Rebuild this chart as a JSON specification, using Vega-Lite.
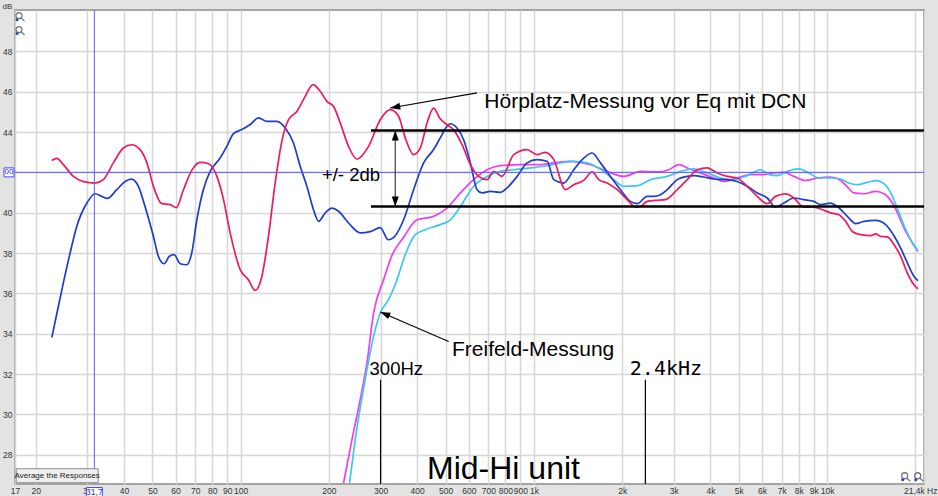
{
  "$schema": "https://vega.github.io/schema/vega-lite/v6.json",
  "width": 909,
  "height": 474,
  "autosize": {"type": "none"},
  "padding": {"left": 15, "top": 10, "right": 14, "bottom": 12},
  "background": "#e3e3e3",
  "config": {
    "view": {"fill": "white", "stroke": "#a4a4a4", "strokeWidth": 2},
    "font": "Liberation Sans"
  },
  "datasets": {
    "freifeld_magenta": [
      {"hz": 224.3, "db": 26.6}, {"hz": 239.7, "db": 28.75}, {"hz": 255.7, "db": 30.73}, {"hz": 269.6, "db": 32.55},
      {"hz": 284.0, "db": 35.03}, {"hz": 307.2, "db": 36.68}, {"hz": 329.0, "db": 37.92}, {"hz": 358.6, "db": 38.76},
      {"hz": 399.5, "db": 39.65}, {"hz": 455.0, "db": 39.82}, {"hz": 505.4, "db": 40.23}, {"hz": 561.3, "db": 40.98},
      {"hz": 623.1, "db": 41.64}, {"hz": 692.3, "db": 42.13}, {"hz": 768.6, "db": 42.33}, {"hz": 899.4, "db": 42.38},
      {"hz": 1052, "db": 42.38}, {"hz": 1169, "db": 42.47}, {"hz": 1332, "db": 42.55}, {"hz": 1559, "db": 42.38},
      {"hz": 1777, "db": 42.05}, {"hz": 2025, "db": 41.8}, {"hz": 2310, "db": 42.05}, {"hz": 2633, "db": 42.02},
      {"hz": 2885, "db": 42.13}, {"hz": 3121, "db": 42.38}, {"hz": 3334, "db": 42.22}, {"hz": 3700, "db": 41.97},
      {"hz": 4108, "db": 41.72}, {"hz": 4444, "db": 41.55}, {"hz": 4937, "db": 41.72}, {"hz": 5482, "db": 41.89},
      {"hz": 6084, "db": 41.89}, {"hz": 6580, "db": 41.97}, {"hz": 7122, "db": 42.0}, {"hz": 7701, "db": 41.8},
      {"hz": 8446, "db": 41.6}, {"hz": 9260, "db": 41.72}, {"hz": 10277, "db": 41.77}, {"hz": 11120, "db": 41.6},
      {"hz": 11721, "db": 41.28}, {"hz": 12350, "db": 40.98}, {"hz": 13360, "db": 40.94}, {"hz": 14640, "db": 41.06},
      {"hz": 15630, "db": 40.94}, {"hz": 16700, "db": 40.48}, {"hz": 17590, "db": 39.82}, {"hz": 18530, "db": 39.07},
      {"hz": 19540, "db": 38.5}, {"hz": 20410, "db": 38.08}
    ],
    "freifeld_cyan": [
      {"hz": 235.1, "db": 26.6}, {"hz": 245.9, "db": 28.75}, {"hz": 269.6, "db": 32.22}, {"hz": 284.0, "db": 33.87},
      {"hz": 299.3, "db": 35.03}, {"hz": 319.4, "db": 35.69}, {"hz": 341.3, "db": 36.68}, {"hz": 364.3, "db": 37.92},
      {"hz": 394.1, "db": 38.91}, {"hz": 426.3, "db": 39.16}, {"hz": 479.5, "db": 39.41}, {"hz": 518.8, "db": 39.65},
      {"hz": 561.3, "db": 40.31}, {"hz": 623.1, "db": 41.31}, {"hz": 692.3, "db": 41.8}, {"hz": 768.6, "db": 42.05},
      {"hz": 853.5, "db": 42.13}, {"hz": 972.8, "db": 42.22}, {"hz": 1109, "db": 42.33}, {"hz": 1264, "db": 42.5},
      {"hz": 1368, "db": 42.55}, {"hz": 1519, "db": 42.47}, {"hz": 1687, "db": 42.17}, {"hz": 1872, "db": 41.64},
      {"hz": 2025, "db": 41.31}, {"hz": 2250, "db": 41.34}, {"hz": 2498, "db": 41.64}, {"hz": 2849, "db": 41.8},
      {"hz": 3162, "db": 42.05}, {"hz": 3511, "db": 42.17}, {"hz": 3901, "db": 41.97}, {"hz": 4330, "db": 41.72},
      {"hz": 4806, "db": 41.64}, {"hz": 5340, "db": 41.84}, {"hz": 5929, "db": 42.13}, {"hz": 6330, "db": 41.89},
      {"hz": 6761, "db": 41.84}, {"hz": 7314, "db": 42.05}, {"hz": 8012, "db": 42.17}, {"hz": 8667, "db": 41.97},
      {"hz": 9376, "db": 41.72}, {"hz": 10277, "db": 41.72}, {"hz": 11120, "db": 41.67}, {"hz": 11870, "db": 41.47},
      {"hz": 12680, "db": 41.39}, {"hz": 13720, "db": 41.5}, {"hz": 14640, "db": 41.59}, {"hz": 15630, "db": 41.44},
      {"hz": 16700, "db": 40.81}, {"hz": 17590, "db": 39.99}, {"hz": 18530, "db": 39.16}, {"hz": 19540, "db": 38.5},
      {"hz": 20410, "db": 38.12}
    ],
    "hoerplatz_blau": [
      {"hz": 22.7, "db": 33.82}, {"hz": 23.9, "db": 35.36}, {"hz": 24.85, "db": 36.52}, {"hz": 26.2, "db": 38.0},
      {"hz": 27.6, "db": 39.32}, {"hz": 29.9, "db": 40.48}, {"hz": 31.9, "db": 40.94}, {"hz": 33.6, "db": 40.81},
      {"hz": 35.1, "db": 40.71}, {"hz": 37.8, "db": 41.14}, {"hz": 40.35, "db": 41.55}, {"hz": 42.5, "db": 41.67},
      {"hz": 44.8, "db": 41.31}, {"hz": 47.2, "db": 40.31}, {"hz": 50.4, "db": 38.83}, {"hz": 52.4, "db": 37.84},
      {"hz": 54.8, "db": 37.47}, {"hz": 57.15, "db": 37.84}, {"hz": 59.3, "db": 37.92}, {"hz": 62.2, "db": 37.47},
      {"hz": 65.5, "db": 37.42}, {"hz": 68.1, "db": 38.0}, {"hz": 70.9, "db": 39.65}, {"hz": 74.6, "db": 41.14},
      {"hz": 78.7, "db": 42.05}, {"hz": 85.1, "db": 42.71}, {"hz": 89.7, "db": 43.29}, {"hz": 94.5, "db": 43.92},
      {"hz": 100.9, "db": 44.12}, {"hz": 107.8, "db": 44.37}, {"hz": 115.0, "db": 44.7}, {"hz": 122.9, "db": 44.53},
      {"hz": 132.9, "db": 44.53}, {"hz": 141.9, "db": 44.2}, {"hz": 151.4, "db": 43.46}, {"hz": 159.6, "db": 42.3},
      {"hz": 168.2, "db": 41.31}, {"hz": 177.2, "db": 40.15}, {"hz": 184.3, "db": 39.57}, {"hz": 194.3, "db": 39.99},
      {"hz": 204.8, "db": 40.23}, {"hz": 215.7, "db": 40.07}, {"hz": 233.3, "db": 39.49}, {"hz": 255.7, "db": 39.0},
      {"hz": 276.7, "db": 39.06}, {"hz": 299.3, "db": 39.26}, {"hz": 318.7, "db": 38.66}, {"hz": 336.7, "db": 38.86},
      {"hz": 359.5, "db": 39.65}, {"hz": 388.9, "db": 41.14}, {"hz": 420.7, "db": 42.47}, {"hz": 455.0, "db": 43.13},
      {"hz": 479.5, "db": 43.71}, {"hz": 505.4, "db": 44.28}, {"hz": 518.8, "db": 44.41}, {"hz": 546.7, "db": 44.2},
      {"hz": 576.0, "db": 43.62}, {"hz": 607.3, "db": 42.47}, {"hz": 640.0, "db": 41.14}, {"hz": 665.7, "db": 40.98},
      {"hz": 710.5, "db": 41.06}, {"hz": 768.6, "db": 41.01}, {"hz": 810.0, "db": 41.23}, {"hz": 876.6, "db": 41.8},
      {"hz": 948.0, "db": 42.47}, {"hz": 1025, "db": 42.63}, {"hz": 1109, "db": 42.55}, {"hz": 1169, "db": 41.64},
      {"hz": 1264, "db": 41.47}, {"hz": 1368, "db": 42.13}, {"hz": 1479, "db": 42.71}, {"hz": 1580, "db": 42.96},
      {"hz": 1687, "db": 42.47}, {"hz": 1824, "db": 41.8}, {"hz": 1973, "db": 41.14}, {"hz": 2135, "db": 40.56},
      {"hz": 2250, "db": 40.45}, {"hz": 2434, "db": 40.81}, {"hz": 2564, "db": 40.81}, {"hz": 2702, "db": 40.89},
      {"hz": 2849, "db": 41.14}, {"hz": 3082, "db": 41.64}, {"hz": 3334, "db": 41.8}, {"hz": 3511, "db": 41.84},
      {"hz": 3798, "db": 41.77}, {"hz": 4108, "db": 41.67}, {"hz": 4564, "db": 41.64}, {"hz": 4937, "db": 41.55},
      {"hz": 5340, "db": 41.31}, {"hz": 5778, "db": 40.98}, {"hz": 6249, "db": 40.73}, {"hz": 6668, "db": 40.28},
      {"hz": 7122, "db": 40.48}, {"hz": 7701, "db": 40.73}, {"hz": 8332, "db": 40.65}, {"hz": 9013, "db": 40.56},
      {"hz": 9502, "db": 40.4}, {"hz": 10277, "db": 40.48}, {"hz": 10835, "db": 40.31}, {"hz": 11721, "db": 39.82},
      {"hz": 12510, "db": 39.46}, {"hz": 13360, "db": 39.57}, {"hz": 14640, "db": 39.62}, {"hz": 15840, "db": 39.41},
      {"hz": 16900, "db": 38.86}, {"hz": 17820, "db": 38.25}, {"hz": 18780, "db": 37.51}, {"hz": 19780, "db": 36.84},
      {"hz": 20410, "db": 36.63}
    ],
    "hoerplatz_rot": [
      {"hz": 22.7, "db": 42.59}, {"hz": 23.6, "db": 42.69}, {"hz": 24.85, "db": 42.38}, {"hz": 26.9, "db": 41.8},
      {"hz": 29.1, "db": 41.54}, {"hz": 31.9, "db": 41.47}, {"hz": 34.0, "db": 41.64}, {"hz": 36.8, "db": 42.47},
      {"hz": 39.8, "db": 43.21}, {"hz": 42.5, "db": 43.37}, {"hz": 45.4, "db": 43.13}, {"hz": 47.9, "db": 42.47},
      {"hz": 50.4, "db": 41.31}, {"hz": 53.8, "db": 40.45}, {"hz": 57.5, "db": 40.4}, {"hz": 60.3, "db": 40.25},
      {"hz": 63.8, "db": 41.14}, {"hz": 68.1, "db": 42.1}, {"hz": 72.7, "db": 42.5}, {"hz": 77.7, "db": 42.43},
      {"hz": 83.0, "db": 41.8}, {"hz": 87.4, "db": 40.65}, {"hz": 92.1, "db": 39.0}, {"hz": 99.6, "db": 37.18},
      {"hz": 106.3, "db": 36.68}, {"hz": 112.1, "db": 36.15}, {"hz": 118.1, "db": 36.84}, {"hz": 124.4, "db": 38.83},
      {"hz": 131.1, "db": 41.47}, {"hz": 138.2, "db": 43.54}, {"hz": 145.6, "db": 44.61}, {"hz": 155.5, "db": 45.02},
      {"hz": 166.0, "db": 45.77}, {"hz": 176.4, "db": 46.35}, {"hz": 186.8, "db": 46.02}, {"hz": 197.0, "db": 45.52},
      {"hz": 207.4, "db": 45.27}, {"hz": 218.6, "db": 44.45}, {"hz": 233.3, "db": 43.29}, {"hz": 249.2, "db": 42.66},
      {"hz": 273.0, "db": 43.29}, {"hz": 299.3, "db": 44.61}, {"hz": 323.7, "db": 45.11}, {"hz": 345.6, "db": 44.78},
      {"hz": 364.3, "db": 43.71}, {"hz": 388.9, "db": 42.88}, {"hz": 409.9, "db": 43.21}, {"hz": 432.1, "db": 44.45},
      {"hz": 455.0, "db": 45.19}, {"hz": 476.9, "db": 44.7}, {"hz": 505.4, "db": 44.36}, {"hz": 532.3, "db": 44.12},
      {"hz": 568.9, "db": 43.37}, {"hz": 607.3, "db": 42.38}, {"hz": 648.1, "db": 41.8}, {"hz": 692.3, "db": 41.64},
      {"hz": 729.2, "db": 42.05}, {"hz": 778.9, "db": 41.8}, {"hz": 853.5, "db": 42.88}, {"hz": 948.0, "db": 43.13},
      {"hz": 1025, "db": 42.88}, {"hz": 1094, "db": 42.99}, {"hz": 1169, "db": 42.63}, {"hz": 1281, "db": 41.14},
      {"hz": 1368, "db": 41.39}, {"hz": 1479, "db": 41.6}, {"hz": 1580, "db": 42.02}, {"hz": 1664, "db": 41.64},
      {"hz": 1777, "db": 41.47}, {"hz": 1923, "db": 41.14}, {"hz": 2080, "db": 40.65}, {"hz": 2221, "db": 40.28},
      {"hz": 2310, "db": 40.31}, {"hz": 2434, "db": 40.56}, {"hz": 2598, "db": 40.61}, {"hz": 2810, "db": 40.65},
      {"hz": 3082, "db": 41.14}, {"hz": 3334, "db": 41.64}, {"hz": 3606, "db": 42.13}, {"hz": 3901, "db": 42.22},
      {"hz": 4220, "db": 41.97}, {"hz": 4564, "db": 41.8}, {"hz": 4937, "db": 41.72}, {"hz": 5340, "db": 41.31},
      {"hz": 5778, "db": 40.81}, {"hz": 6249, "db": 40.45}, {"hz": 6668, "db": 40.81}, {"hz": 7217, "db": 40.93},
      {"hz": 7701, "db": 40.73}, {"hz": 8332, "db": 40.28}, {"hz": 9013, "db": 40.28}, {"hz": 9630, "db": 40.15},
      {"hz": 10277, "db": 39.99}, {"hz": 10972, "db": 39.9}, {"hz": 11567, "db": 39.57}, {"hz": 12190, "db": 39.07},
      {"hz": 13010, "db": 38.91}, {"hz": 14080, "db": 38.86}, {"hz": 14640, "db": 38.95}, {"hz": 15220, "db": 38.83},
      {"hz": 16050, "db": 38.8}, {"hz": 16900, "db": 38.42}, {"hz": 17820, "db": 37.84}, {"hz": 18780, "db": 37.01},
      {"hz": 19780, "db": 36.43}, {"hz": 20410, "db": 36.22}
    ],
    "toleranz": [
      {"hz1": 278.2, "hz2": 21400, "db": 44.07},
      {"hz1": 278.2, "hz2": 21400, "db": 40.31}
    ],
    "weichen": [
      {"hz": 300, "db_top": 31.72, "db_bottom": 26.55},
      {"hz": 2400, "db_top": 31.72, "db_bottom": 26.55}
    ],
    "pfeile": [
      {"name": "hoerplatz", "hz1": 640, "db1": 45.94, "hz2": 323.7, "db2": 45.19},
      {"name": "freifeld", "hz1": 512.1, "db1": 33.62, "hz2": 299.3, "db2": 35.08},
      {"name": "bereich", "hz1": 336.7, "db1": 44.07, "hz2": 336.7, "db2": 40.31}
    ],
    "cursor": [
      {"hz": 31.7, "db": 42, "hz_text": "31,7", "db_text": "00"}
    ],
    "knopf": [
      {"hz": 23.68, "db": 26.96, "text": "Average the Responses"}
    ],
    "lupen": [
      {"hz": 17.68, "db": 49.72},
      {"hz": 17.68, "db": 49.03},
      {"hz": 18530, "db": 26.91},
      {"hz": 20530, "db": 26.91}
    ],
    "texte_gross": [
      {"hz": 677.7, "db": 45.19, "text": "Hörplatz-Messung vor Eq mit DCN"},
      {"hz": 525.9, "db": 32.88, "text": "Freifeld-Messung"}
    ],
    "texte_mittel": [
      {"hz": 189.3, "db": 41.55, "text": "+/- 2db"},
      {"hz": 275.2, "db": 31.97, "text": "300Hz"}
    ],
    "text_24k": [
      {"hz": 2821, "db": 31.97, "text": "2.4kHz"}
    ],
    "titel": [
      {"hz": 432.1, "db": 26.8, "text": "Mid-Hi unit"}
    ]
  },
  "layer": [
    {
      "data": {"name": "freifeld_magenta"},
      "mark": {"type": "line", "color": "#f23cf2", "strokeWidth": 1.7, "interpolate": "monotone", "clip": true},
      "encoding": {
        "x": {
          "field": "hz", "type": "quantitative",
          "scale": {"type": "log", "domain": [17, 21400], "nice": false},
          "axis": {
            "title": null,
            "values": [17, 20, 30, 40, 50, 60, 70, 80, 90, 100, 200, 300, 400, 500, 600, 700, 800, 900, 1000, 2000, 3000, 4000, 5000, 6000, 7000, 8000, 9000, 10000, 20000, 21400],
            "labelExpr": "datum.value == 21400 ? '21,4k Hz' : datum.value == 20000 ? '' : datum.value >= 1000 ? (datum.value / 1000) + 'k' : '' + datum.value",
            "labelAlign": {"condition": {"test": "datum.value == 21400", "value": "right"}, "value": "center"},
            "labelOffset": {"condition": {"test": "datum.value == 21400", "value": 13}, "value": 0},
            "grid": true, "gridColor": "#d6d6d6", "gridWidth": 1.5,
            "domain": false, "ticks": false,
            "labelFontSize": 8.5, "labelColor": "#333333", "labelPadding": 2,
            "labelOverlap": false, "labelBound": false, "labelFlush": false
          }
        },
        "y": {
          "field": "db", "type": "quantitative",
          "scale": {"domain": [26.55, 50.05], "nice": false, "zero": false},
          "axis": {
            "title": "dB", "titleAngle": 0, "titleX": -8, "titleY": -4,
            "titleBaseline": "middle", "titleAlign": "center",
            "titleFontSize": 8, "titleFontWeight": "normal", "titleColor": "#333333",
            "values": [28, 30, 32, 34, 36, 38, 40, 42, 44, 46, 48],
            "labelExpr": "datum.value == 42 ? '' : '' + datum.value",
            "grid": true, "gridColor": "#d6d6d6", "gridWidth": 1.5,
            "domain": false, "ticks": false,
            "labelFontSize": 8.5, "labelColor": "#333333", "labelPadding": 3
          }
        }
      }
    },
    {
      "data": {"name": "freifeld_cyan"},
      "mark": {"type": "line", "color": "#3cc6f4", "strokeWidth": 1.7, "interpolate": "monotone", "clip": true},
      "encoding": {
        "x": {"field": "hz", "type": "quantitative"},
        "y": {"field": "db", "type": "quantitative"}
      }
    },
    {
      "data": {"name": "hoerplatz_blau"},
      "mark": {"type": "line", "color": "#1e3ccc", "strokeWidth": 1.7, "interpolate": "monotone", "clip": true},
      "encoding": {
        "x": {"field": "hz", "type": "quantitative"},
        "y": {"field": "db", "type": "quantitative"}
      }
    },
    {
      "data": {"name": "hoerplatz_rot"},
      "mark": {"type": "line", "color": "#ee1a5e", "strokeWidth": 1.7, "interpolate": "monotone", "clip": true},
      "encoding": {
        "x": {"field": "hz", "type": "quantitative"},
        "y": {"field": "db", "type": "quantitative"}
      }
    },
    {
      "data": {"name": "cursor"},
      "mark": {"type": "rule", "color": "#5b5bff", "strokeWidth": 1},
      "encoding": {"x": {"field": "hz", "type": "quantitative"}}
    },
    {
      "data": {"name": "cursor"},
      "mark": {"type": "rule", "color": "#5b5bff", "strokeWidth": 1},
      "encoding": {"y": {"field": "db", "type": "quantitative"}}
    },
    {
      "data": {"name": "toleranz"},
      "mark": {"type": "rule", "color": "#000000", "strokeWidth": 2.5},
      "encoding": {
        "x": {"field": "hz1", "type": "quantitative"},
        "x2": {"field": "hz2"},
        "y": {"field": "db", "type": "quantitative"}
      }
    },
    {
      "data": {"name": "weichen"},
      "mark": {"type": "rule", "color": "#000000", "strokeWidth": 1.2},
      "encoding": {
        "x": {"field": "hz", "type": "quantitative"},
        "y": {"field": "db_top", "type": "quantitative"},
        "y2": {"field": "db_bottom"}
      }
    },
    {
      "data": {"name": "pfeile"},
      "transform": [{"filter": "datum.name != 'bereich'"}],
      "mark": {"type": "rule", "color": "#000000", "strokeWidth": 1.1},
      "encoding": {
        "x": {"field": "hz1", "type": "quantitative"},
        "x2": {"field": "hz2"},
        "y": {"field": "db1", "type": "quantitative"},
        "y2": {"field": "db2"}
      }
    },
    {
      "data": {"name": "pfeile"},
      "transform": [{"filter": "datum.name == 'bereich'"}],
      "mark": {"type": "rule", "color": "#4a4a4a", "strokeWidth": 1.3},
      "encoding": {
        "x": {"field": "hz1", "type": "quantitative"},
        "x2": {"field": "hz2"},
        "y": {"field": "db1", "type": "quantitative"},
        "y2": {"field": "db2"}
      }
    },
    {
      "data": {"name": "pfeile"},
      "transform": [{"filter": "datum.name == 'hoerplatz'"}],
      "mark": {"type": "point", "shape": "M0,0L-3.5,10L3.5,10Z", "size": 4, "filled": true, "color": "#000000", "opacity": 1, "angle": 260},
      "encoding": {
        "x": {"field": "hz2", "type": "quantitative"},
        "y": {"field": "db2", "type": "quantitative"}
      }
    },
    {
      "data": {"name": "pfeile"},
      "transform": [{"filter": "datum.name == 'freifeld'"}],
      "mark": {"type": "point", "shape": "M0,0L-3.5,10L3.5,10Z", "size": 4, "filled": true, "color": "#000000", "opacity": 1, "angle": 293},
      "encoding": {
        "x": {"field": "hz2", "type": "quantitative"},
        "y": {"field": "db2", "type": "quantitative"}
      }
    },
    {
      "data": {"name": "pfeile"},
      "transform": [{"filter": "datum.name == 'bereich'"}],
      "mark": {"type": "point", "shape": "M0,0L-3.5,10L3.5,10Z", "size": 4, "filled": true, "color": "#000000", "opacity": 1, "angle": 0},
      "encoding": {
        "x": {"field": "hz1", "type": "quantitative"},
        "y": {"field": "db1", "type": "quantitative"}
      }
    },
    {
      "data": {"name": "pfeile"},
      "transform": [{"filter": "datum.name == 'bereich'"}],
      "mark": {"type": "point", "shape": "M0,0L-3.5,10L3.5,10Z", "size": 4, "filled": true, "color": "#000000", "opacity": 1, "angle": 180},
      "encoding": {
        "x": {"field": "hz2", "type": "quantitative"},
        "y": {"field": "db2", "type": "quantitative"}
      }
    },
    {
      "data": {"name": "texte_gross"},
      "mark": {"type": "text", "font": "Liberation Sans", "fontSize": 21, "align": "left", "baseline": "alphabetic", "color": "#000000"},
      "encoding": {
        "x": {"field": "hz", "type": "quantitative"},
        "y": {"field": "db", "type": "quantitative"},
        "text": {"field": "text"}
      }
    },
    {
      "data": {"name": "texte_mittel"},
      "mark": {"type": "text", "font": "Liberation Sans", "fontSize": 18.5, "align": "left", "baseline": "alphabetic", "color": "#000000"},
      "encoding": {
        "x": {"field": "hz", "type": "quantitative"},
        "y": {"field": "db", "type": "quantitative"},
        "text": {"field": "text"}
      }
    },
    {
      "data": {"name": "text_24k"},
      "mark": {"type": "text", "font": "DejaVu Sans Mono", "fontSize": 20, "align": "center", "baseline": "alphabetic", "color": "#000000"},
      "encoding": {
        "x": {"field": "hz", "type": "quantitative"},
        "y": {"field": "db", "type": "quantitative"},
        "text": {"field": "text"}
      }
    },
    {
      "data": {"name": "titel"},
      "mark": {"type": "text", "font": "Liberation Sans", "fontSize": 32, "align": "left", "baseline": "alphabetic", "color": "#000000"},
      "encoding": {
        "x": {"field": "hz", "type": "quantitative"},
        "y": {"field": "db", "type": "quantitative"},
        "text": {"field": "text"}
      }
    },
    {
      "data": {"name": "lupen"},
      "mark": {"type": "point", "shape": "M-4,-1A3,3 0 1 0 2,-1A3,3 0 1 0 -4,-1Z M1.2,1.2L4.5,4.5", "size": 4, "filled": false, "stroke": "#777777", "strokeWidth": 1.3, "opacity": 1},
      "encoding": {
        "x": {"field": "hz", "type": "quantitative"},
        "y": {"field": "db", "type": "quantitative"}
      }
    },
    {
      "data": {"name": "lupen"},
      "mark": {"type": "point", "shape": "circle", "size": 9, "filled": true, "color": "#2848b8", "opacity": 1, "xOffset": -3, "yOffset": 3},
      "encoding": {
        "x": {"field": "hz", "type": "quantitative"},
        "y": {"field": "db", "type": "quantitative"}
      }
    },
    {
      "data": {"name": "knopf"},
      "mark": {"type": "point", "shape": "M-41,-7H41V7H-41Z", "size": 4, "filled": true, "fill": "#efefef", "stroke": "#8c8c8c", "strokeWidth": 1, "opacity": 1},
      "encoding": {
        "x": {"field": "hz", "type": "quantitative"},
        "y": {"field": "db", "type": "quantitative"}
      }
    },
    {
      "data": {"name": "knopf"},
      "mark": {"type": "text", "font": "Liberation Sans", "fontSize": 8, "align": "center", "baseline": "middle", "color": "#222222"},
      "encoding": {
        "x": {"field": "hz", "type": "quantitative"},
        "y": {"field": "db", "type": "quantitative"},
        "text": {"field": "text"}
      }
    },
    {
      "data": {"name": "cursor"},
      "mark": {"type": "point", "shape": "M-8,-4.5H8V4.5H-8Z", "size": 4, "filled": true, "fill": "#ffffff", "stroke": "#4d4dff", "strokeWidth": 1, "opacity": 1, "yOffset": 8, "clip": false},
      "encoding": {
        "x": {"field": "hz", "type": "quantitative"},
        "y": {"datum": 26.55, "type": "quantitative"}
      }
    },
    {
      "data": {"name": "cursor"},
      "mark": {"type": "text", "font": "Liberation Sans", "fontSize": 8.5, "align": "center", "baseline": "middle", "color": "#2a2aff", "dy": 8},
      "encoding": {
        "x": {"field": "hz", "type": "quantitative"},
        "y": {"datum": 26.55, "type": "quantitative"},
        "text": {"field": "hz_text"}
      }
    },
    {
      "data": {"name": "cursor"},
      "mark": {"type": "point", "shape": "M-5,-4.5H5V4.5H-5Z", "size": 4, "filled": true, "fill": "#ffffff", "stroke": "#4d4dff", "strokeWidth": 1, "opacity": 1, "xOffset": -6},
      "encoding": {
        "x": {"datum": 17, "type": "quantitative"},
        "y": {"field": "db", "type": "quantitative"}
      }
    },
    {
      "data": {"name": "cursor"},
      "mark": {"type": "text", "font": "Liberation Sans", "fontSize": 8, "align": "center", "baseline": "middle", "color": "#2a2aff", "dx": -6},
      "encoding": {
        "x": {"datum": 17, "type": "quantitative"},
        "y": {"field": "db", "type": "quantitative"},
        "text": {"field": "db_text"}
      }
    }
  ]
}
